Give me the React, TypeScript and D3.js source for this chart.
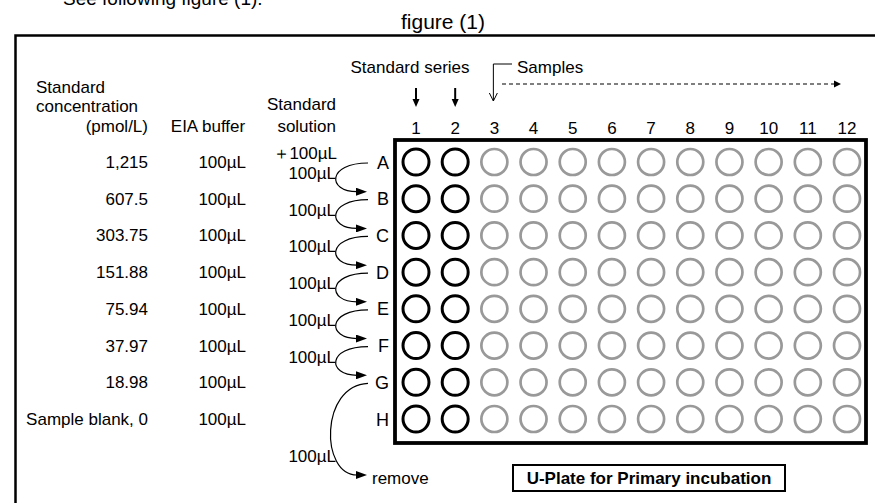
import React from 'react';
import * as d3 from 'd3';

const rows = ['A', 'B', 'C', 'D', 'E', 'F', 'G', 'H'];
const columns = ['1', '2', '3', '4', '5', '6', '7', '8', '9', '10', '11', '12'];
const standardColumns = ['1', '2'];
const concentrations = ['1,215', '607.5', '303.75', '151.88', '75.94', '37.97', '18.98', 'Sample blank, 0'];
const bufferVolumes = ['100µL', '100µL', '100µL', '100µL', '100µL', '100µL', '100µL', '100µL'];
const transferVolumes = ['100µL', '100µL', '100µL', '100µL', '100µL', '100µL'];
const addedSign = '＋';
const addedVolume = '100µL';
const removedVolume = '100µL';

const FONT = '"Liberation Sans", Arial, sans-serif';
const FS = 17;

export default function App() {
  const W = 875;
  const H = 503;
  const x = d3.scaleLinear().domain([0, columns.length - 1]).range([416, 847]);
  const y = d3.scaleLinear().domain([0, rows.length - 1]).range([162, 419]);

  const arc = (y1: number, y2: number) => {
    const p = d3.path();
    p.moveTo(368, y1);
    p.bezierCurveTo(327, y1, 327, y2, 357, y2);
    return p.toString();
  };

  const removeArc = () => {
    const p = d3.path();
    const y1 = y(6) + 1;
    p.moveTo(368, y1);
    p.bezierCurveTo(320, y1 + 2, 320, 475, 357, 475);
    return p.toString();
  };

  return (
    <svg width={W} height={H} style={{ position: 'absolute', left: 0, top: 0, background: '#fff' }} fontFamily={FONT}>
      <defs>
        <marker id="ah" markerUnits="userSpaceOnUse" markerWidth={11} markerHeight={8} refX={1} refY={4} orient="auto">
          <path d="M0,0 L11,4 L0,8 z" fill="#000" />
        </marker>
      </defs>
      <rect x={0} y={0} width={W} height={H} fill="#fff" />

      {/* Heading text */}
      <text x={63} y={5} fontSize={19} fill="#000">See following figure (1).</text>
      <text x={443} y={29} fontSize={21} textAnchor="middle" fill="#000">figure (1)</text>

      {/* outer frame */}
      <path d="M15.5,503 V35.5 H875" fill="none" stroke="#000" strokeWidth={2.5} />

      {/* left table headers */}
      <g fontSize={FS} fill="#000">
        <text x={36} y={93}>Standard</text>
        <text x={36} y={112}>concentration</text>
        <text x={148} y={132} textAnchor="end">(pmol/L)</text>
        <text x={208} y={132} textAnchor="middle">EIA buffer</text>
        <text x={336} y={110} textAnchor="end">Standard</text>
        <text x={336} y={132} textAnchor="end">solution</text>
      </g>

      {/* left table rows */}
      <g fontSize={FS} fill="#000">
        {concentrations.map((c, i) => (
          <text key={'c' + i} x={148} y={y(i) + 6} textAnchor="end">{c}</text>
        ))}
        {bufferVolumes.map((v, i) => (
          <text key={'b' + i} x={246} y={y(i) + 6} textAnchor="end">{v}</text>
        ))}
      </g>

      {/* standard solution transfers */}
      <g fontSize={FS} fill="#000">
        <text x={290} y={y(0) - 3} textAnchor="end">{addedSign}</text>
        <text x={337} y={y(0) - 3} textAnchor="end">{addedVolume}</text>
        {transferVolumes.map((v, i) => (
          <g key={'t' + i}>
            <text x={336} y={y(i) + 17} textAnchor="end">{v}</text>
            <path d={arc(y(i) + 1, y(i + 1) - 7)} fill="none" stroke="#000" strokeWidth={1.2} markerEnd="url(#ah)" />
          </g>
        ))}
        <path d={removeArc()} fill="none" stroke="#000" strokeWidth={1.2} markerEnd="url(#ah)" />
        <text x={336} y={462} textAnchor="end">{removedVolume}</text>
        <text x={372} y={484}>remove</text>
      </g>

      {/* Column headers */}
      <text x={410} y={73} fontSize={FS} textAnchor="middle" fill="#000">Standard series</text>
      {standardColumns.map((c) => {
        const cx = x(columns.indexOf(c));
        return (
          <g key={'sa' + c}>
            <line x1={cx} y1={88} x2={cx} y2={100} stroke="#000" strokeWidth={2} />
            <path d={`M${cx - 3.5},99 L${cx},107 L${cx + 3.5},99 z`} fill="#000" />
          </g>
        );
      })}
      <path d={`M512,64 H${x(2) - 1} V101`} fill="none" stroke="#000" strokeWidth={1} />
      <path d={`M${x(2) - 5},93 L${x(2) - 1},101 L${x(2) + 3},93`} fill="none" stroke="#000" strokeWidth={1} />
      <text x={517} y={73} fontSize={FS} fill="#000">Samples</text>
      <line x1={502} y1={84} x2={834} y2={84} stroke="#000" strokeWidth={1.2} strokeDasharray="4 3" />
      <path d="M834,80.5 L841,84 L834,87.5 z" fill="#000" />

      {columns.map((c, i) => (
        <text key={'col' + c} x={x(i)} y={134} fontSize={FS} textAnchor="middle" fill="#000">{c}</text>
      ))}

      {/* plate */}
      <rect x={395} y={140} width={471} height={303} fill="none" stroke="#000" strokeWidth={3.8} />
      {rows.map((r, i) => (
        <text key={'row' + r} x={389} y={y(i) + 6.5} fontSize={18} textAnchor="end" fill="#000">{r}</text>
      ))}
      {rows.map((r, ri) =>
        columns.map((c, ci) => {
          const isStd = standardColumns.includes(c);
          return (
            <circle
              key={r + c}
              cx={x(ci)}
              cy={y(ri)}
              r={13}
              fill="none"
              stroke={isStd ? '#000' : '#999'}
              strokeWidth={isStd ? 3 : 2.7}
            />
          );
        })
      )}

      {/* plate title */}
      <rect x={513} y={465} width={272} height={26} fill="none" stroke="#000" strokeWidth={2} />
      <text x={649} y={484} fontSize={17} fontWeight="bold" textAnchor="middle" fill="#000">U-Plate for Primary incubation</text>
    </svg>
  );
}
